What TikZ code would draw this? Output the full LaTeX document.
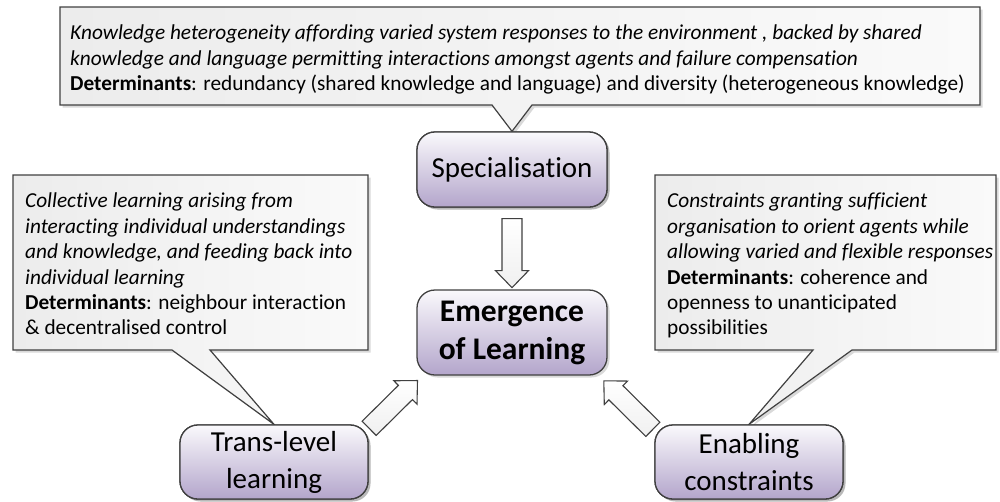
\documentclass[tikz,border=0pt]{standalone}
\usepackage{fontspec}
\setmainfont{Carlito}[Ligatures={NoCommon}]
\usetikzlibrary{shadows,calc}
\definecolor{bord}{HTML}{404040}
\definecolor{lavtop}{HTML}{FAF9FC}
\definecolor{lavbot}{HTML}{B3A5CB}
\definecolor{calL}{HTML}{ECECEC}
\definecolor{calR}{HTML}{FAFAFA}
\tikzset{
  softshadow/.style={drop shadow={shadow xshift=2.5pt,shadow yshift=-2.5pt,opacity=0.15,fill=black}},
  stepbox/.style={draw=bord, line width=1.3pt, rounded corners=18pt, top color=lavtop, bottom color=lavbot,
    align=center, inner sep=0pt, font=\fontsize{29}{37}\selectfont, softshadow},
  corebox/.style={stepbox, font=\bfseries\fontsize{31.5}{38}\selectfont},
  callshape/.style={draw=bord, line width=1.2pt, left color=calL, right color=calR, softshadow},
  calltext/.style={align=left, inner sep=0pt, font=\fontsize{21.3}{25.4}\selectfont},
  barrowline/.style={draw=bord, line width=1.1pt, top color=white, bottom color=gray!12, line join=miter},
  pics/barrow/.style={code={
    \path[barrowline] (0,10) -- (#1-17,10) -- (#1-17,16.5) -- (#1,0) -- (#1-17,-16.5) -- (#1-17,-10) -- (0,-10) -- cycle;}}
}
\begin{document}
\begin{tikzpicture}[x=1pt,y=1pt]
\useasboundingbox (0,0) rectangle (1000,-501);

% main nodes
\node[stepbox, minimum width=190pt, minimum height=75pt] (spec) at (512,-169.5) {Specialisation};
\node[corebox, minimum width=190pt, minimum height=85pt] (emerg) at (512,-332.5) {Emergence\\of Learning};
\node[stepbox, minimum width=188pt, minimum height=74pt] (trans) at (274,-462) {Trans-level\\learning};
\node[stepbox, minimum width=188pt, minimum height=74pt] (enab) at (749,-462) {Enabling\\constraints};

% callouts
\path[callshape] (60,-7) -- (980,-7) -- (980,-105) -- (532,-105) -- (spec.north) -- (492,-105) -- (60,-105) -- cycle;
\path[callshape] (13,-175) -- (368,-175) -- (368,-350) -- (210,-350) -- (trans.north) -- (172,-350) -- (13,-350) -- cycle;
\path[callshape] (655,-175) -- (996,-175) -- (996,-350) -- (852,-350) -- (enab.north) -- (813,-350) -- (655,-350) -- cycle;

% redraw boxes above tips
\node[stepbox, minimum width=190pt, minimum height=75pt] at (spec) {Specialisation};
\node[stepbox, minimum width=188pt, minimum height=74pt] at (trans) {Trans-level\\learning};
\node[stepbox, minimum width=188pt, minimum height=74pt] at (enab) {Enabling\\constraints};

\node[calltext, anchor=north west] (ttop) at (70,-25) {%
\textit{Knowledge heterogeneity affording varied system responses to the environment , backed by shared}\\
\textit{knowledge and language permitting interactions amongst agents and failure compensation}\\
\textbf{Determinants}: redundancy (shared knowledge and language) and diversity (heterogeneous knowledge)};

\node[calltext, anchor=north west] (tleft) at (25,-193) {%
\textit{Collective learning arising from}\\
\textit{interacting individual understandings}\\
\textit{and knowledge, and feeding back into}\\
\textit{individual learning}\\
\textbf{Determinants}: neighbour interaction\\
\& decentralised control};

\node[calltext, anchor=north west] (tright) at (667,-193) {%
\textit{Constraints granting sufficient}\\
\textit{organisation to orient agents while}\\
\textit{allowing varied and flexible responses}\\
\textbf{Determinants}: coherence and\\
openness to unanticipated\\
possibilities};

% block arrows
\coordinate (a1s) at ($(spec.south)+(0,-11)$);
\coordinate (a1e) at ($(emerg.north)+(0,3)$);
\path (a1s) -- (a1e) pic[pos=0, sloped, allow upside down]{barrow=69};

\coordinate (a2s) at ($(trans.north east)+(0.5,-4)$);
\coordinate (a2e) at ($(emerg.south west)+(0,-6)$);
\path (a2s) -- (a2e) pic[pos=0, sloped, allow upside down]{barrow=68};

\coordinate (a3s) at ($(enab.north west)+(-1.5,-5)$);
\coordinate (a3e) at ($(emerg.south east)+(-3,-6)$);
\path (a3s) -- (a3e) pic[pos=0, sloped, allow upside down]{barrow=69};
\end{tikzpicture}
\end{document}
